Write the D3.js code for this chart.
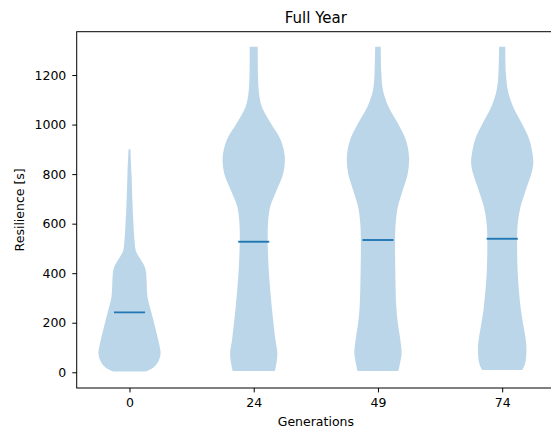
<!DOCTYPE html>
<html>
<head>
<meta charset="utf-8">
<script src="https://cdn.jsdelivr.net/npm/d3@7"></script>
<style>
  body { margin: 0; background: #fff; }
  svg { display: block; font-family: "DejaVu Sans", sans-serif; }
</style>
</head>
<body>
<svg id="chart"></svg>
<script>
//------------------------------------------------------------
// Data
const generations = ["0", "24", "49", "74"];
const medians = [242, 527, 534, 539];
const yTicks = [0, 200, 400, 600, 800, 1000, 1200];

// density profiles: [resilience, relative width]
const gen0Profile = [
  [3, 0.53], [20, 0.78], [50, 0.95], [78, 1.0], [105, 0.97], [170, 0.85],
  [238, 0.71], [305, 0.58], [372, 0.55], [405, 0.53], [426, 0.49],
  [453, 0.37], [475, 0.26], [493, 0.2], [535, 0.16], [670, 0.1],
  [800, 0.065], [900, 0.03]
];
const gen24Profile = [
  [5, 0.68], [36, 0.73], [77, 0.76], [130, 0.7], [265, 0.58], [400, 0.49],
  [527, 0.45], [601, 0.46], [668, 0.53], [736, 0.74], [803, 0.95],
  [870, 1.0], [937, 0.87], [1005, 0.55], [1072, 0.26], [1126, 0.17],
  [1207, 0.135], [1314, 0.13]
];
const gen49Profile = [
  [5, 0.66], [36, 0.71], [77, 0.76], [130, 0.72], [198, 0.64], [265, 0.59],
  [400, 0.56], [534, 0.55], [601, 0.57], [668, 0.64], [736, 0.8],
  [803, 0.96], [870, 1.0], [937, 0.9], [1005, 0.64], [1072, 0.34],
  [1139, 0.16], [1207, 0.11], [1314, 0.09]
];
const gen74Profile = [
  [9, 0.65], [36, 0.74], [90, 0.78], [130, 0.76], [198, 0.67], [265, 0.59],
  [400, 0.5], [534, 0.48], [601, 0.5], [668, 0.59], [736, 0.76],
  [803, 0.94], [843, 1.0], [870, 0.99], [937, 0.88], [1005, 0.63],
  [1072, 0.35], [1139, 0.18], [1207, 0.12], [1314, 0.1]
];
const profiles = [gen0Profile, gen24Profile, gen49Profile, gen74Profile];

//------------------------------------------------------------
// Chart setup
const W = 551, H = 432;
const plot = { left: 76.7, right: 555, top: 31.7, bottom: 388 };
const violinWidth = 0.5;
const fillColor = "#1f77b4";

const svg = d3.select("#chart").attr("width", W).attr("height", H);

const x = d3.scaleLinear().domain([0.575, 4.425]).range([plot.left, plot.right]);
const y = d3.scaleLinear().domain([-63.5, 1375]).range([plot.bottom, plot.top]);

// Violins
const area = d3.area()
  .curve(d3.curveCatmullRom.alpha(0.5))
  .y(d => y(d[0]));

profiles.forEach((prof, i) => {
  const pos = i + 1;
  svg.append("path")
    .datum(prof)
    .attr("d", area
      .x0(d => x(pos - d[1] * violinWidth / 2))
      .x1(d => x(pos + d[1] * violinWidth / 2)))
    .attr("fill", fillColor)
    .attr("fill-opacity", 0.3)
    .attr("stroke", "none");
});

// Median lines
svg.selectAll("line.median")
  .data(medians)
  .join("line")
  .attr("class", "median")
  .attr("x1", (d, i) => x(i + 1 - violinWidth / 4))
  .attr("x2", (d, i) => x(i + 1 + violinWidth / 4))
  .attr("y1", d => y(d))
  .attr("y2", d => y(d))
  .attr("stroke", fillColor)
  .attr("stroke-width", 1.9);

// Axes
const xAxis = svg.append("g")
  .attr("transform", `translate(0,${plot.bottom})`)
  .call(d3.axisBottom(x)
    .tickValues([1, 2, 3, 4])
    .tickFormat(d => generations[d - 1])
    .tickSize(4.4).tickPadding(6).tickSizeOuter(0));

const yAxis = svg.append("g")
  .attr("transform", `translate(${plot.left},0)`)
  .call(d3.axisLeft(y)
    .tickValues(yTicks)
    .tickFormat(d3.format("d"))
    .tickSize(4.4).tickPadding(6).tickSizeOuter(0));

[xAxis, yAxis].forEach(a => {
  a.select(".domain").remove();
  a.selectAll("text").attr("font-size", "12.5px").attr("fill", "#000")
    .attr("font-family", "DejaVu Sans, sans-serif");
  a.selectAll("line").attr("stroke", "#000").attr("stroke-width", 1);
});

// Frame
svg.append("rect")
  .attr("x", plot.left)
  .attr("y", plot.top)
  .attr("width", plot.right - plot.left)
  .attr("height", plot.bottom - plot.top)
  .attr("fill", "none")
  .attr("stroke", "#000")
  .attr("stroke-width", 1);

// Labels
svg.append("text")
  .attr("x", (plot.left + plot.right) / 2)
  .attr("y", 23)
  .attr("text-anchor", "middle")
  .style("font-size", "15px")
  .text("Full Year");

svg.append("text")
  .attr("x", (plot.left + plot.right) / 2)
  .attr("y", 426)
  .attr("text-anchor", "middle")
  .style("font-size", "12.5px")
  .text("Generations");

svg.append("text")
  .attr("transform", "rotate(-90)")
  .attr("x", -(plot.top + plot.bottom) / 2)
  .attr("y", 23.5)
  .attr("text-anchor", "middle")
  .style("font-size", "12.5px")
  .text("Resilience [s]");
</script>
</body>
</html>
